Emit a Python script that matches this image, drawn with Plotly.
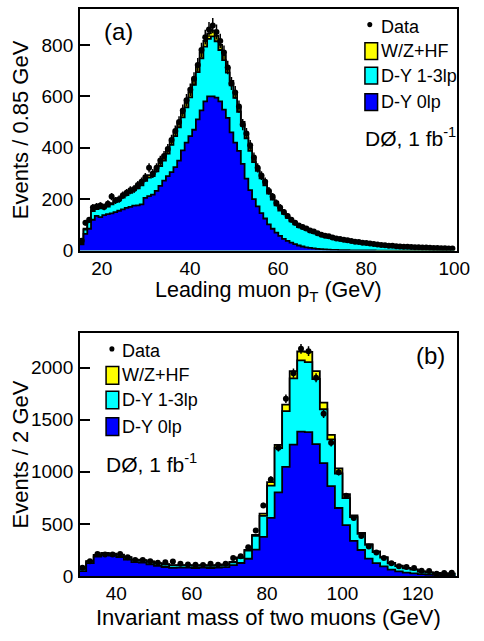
import numpy as np
import plotly.graph_objects as go

W, H = 484, 641

# ---------------- (a) leading muon pT : 0.85 GeV bins, 15-100 GeV ----------------
pt_lo, pt_w = 15.0, 0.85
pt_range = [15.0, 100.7]
pt_ticks = [20, 40, 60, 80, 100]
ya_ticks = [0, 200, 400, 600, 800]

dy0_a = [24, 65, 85, 120, 135, 130, 138, 142, 145, 150,
         155, 160, 166, 170, 175, 176, 180, 205, 212, 218,
         232, 252, 272, 290, 305, 325, 350, 390, 420, 445,
         470, 510, 545, 580, 600, 600, 595, 580, 548, 516,
         460, 420, 388, 337, 280, 235, 200, 172, 146, 125,
         102, 85, 70, 57, 46, 38, 31, 25, 20, 16,
         13, 11, 9, 7, 6, 5, 4, 3, 3, 2,
         2, 2, 1, 1, 1, 1, 1, 1, 1, 0,
         0, 0, 0, 0, 0, 0, 0, 0, 0, 0,
         0, 0, 0, 0, 0, 0, 0, 0, 0, 0]
dy13_a = [4, 17, 27, 34, 26, 34, 30, 29, 35, 40,
          44, 46, 50, 55, 60, 66, 74, 66, 72, 72,
          76, 77, 78, 87, 106, 120, 129, 128, 137, 151,
          175, 184, 203, 213, 223, 233, 219, 200, 193, 176,
          183, 174, 152, 149, 157, 153, 144, 138, 135, 129,
          120, 113, 106, 99, 97, 89, 83, 77, 71, 71,
          67, 63, 59, 56, 53, 50, 47, 44, 41, 39,
          36, 33, 32, 30, 29, 27, 25, 23, 21, 21,
          19, 18, 17, 16, 15, 14, 13, 12, 12, 11,
          11, 10, 10, 9, 9, 8, 8, 7, 7, 7]
hf_a = [2, 3, 3, 4, 4, 4, 4, 5, 5, 5,
        6, 6, 6, 7, 7, 8, 8, 9, 9, 10,
        10, 11, 12, 13, 14, 15, 16, 17, 18, 19,
        20, 21, 22, 22, 22, 22, 21, 20, 19, 18,
        17, 16, 15, 14, 13, 12, 11, 10, 9, 8,
        8, 7, 6, 6, 5, 5, 4, 4, 4, 3,
        3, 3, 3, 3, 2, 2, 2, 2, 2, 2,
        2, 2, 2, 2, 1, 1, 1, 1, 1, 1,
        1, 1, 1, 1, 1, 1, 1, 1, 1, 1,
        1, 1, 1, 1, 1, 1, 1, 1, 1, 1]
data_a = [38, 108, 120, 168, 172, 175, 170, 182, 210, 195,
          200, 215, 225, 235, 240, 255, 268, 285, 322, 300,
          322, 350, 368, 395, 430, 465, 500, 545, 585, 625,
          668, 722, 780, 830, 860, 875, 850, 815, 770, 712,
          650, 615, 560, 490, 455, 410, 362, 322, 292, 268,
          232, 210, 185, 168, 150, 135, 120, 108, 98, 92,
          86, 78, 74, 68, 62, 58, 56, 51, 47, 45,
          42, 40, 37, 35, 34, 31, 30, 28, 26, 24,
          22, 21, 19, 19, 17, 16, 15, 15, 14, 13,
          13, 12, 12, 11, 10, 10, 9, 9, 8, 8]

# ---------------- (b) dimuon invariant mass : 2 GeV bins, 30-130 GeV ----------------
m_lo, m_w = 30.0, 2.0
m_range = [30.3, 130.5]
m_ticks = [40, 60, 80, 100, 120]
yb_ticks = [0, 500, 1000, 1500, 2000]

dy0_b = [47, 123, 185, 203, 196, 182, 156, 133, 127, 112,
         96, 86, 77, 79, 79, 76, 79, 76, 79, 84,
         104, 124, 165, 252, 375, 557, 803, 1046, 1260, 1386,
         1380, 1266, 1083, 863, 652, 488, 337, 249, 167, 123,
         91, 60, 44, 31, 25, 18, 14, 11, 9, 8]
dy13_b = [20, 17, 14, 14, 15, 20, 21, 21, 21, 24,
          24, 24, 24, 22, 22, 22, 22, 22, 22, 22,
          27, 49, 79, 133, 201, 309, 425, 535, 636, 683,
          673, 624, 517, 447, 331, 258, 228, 154, 131, 107,
          84, 62, 51, 42, 36, 24, 20, 16, 15, 13]
hf_b = [2, 2, 3, 3, 3, 3, 3, 3, 3, 3,
        3, 3, 3, 3, 3, 3, 3, 3, 3, 4,
        4, 5, 6, 9, 22, 35, 30, 63, 69, 85,
        97, 75, 63, 44, 50, 38, 15, 10, 8, 6,
        5, 4, 3, 3, 2, 2, 1, 1, 1, 1]
data_b = [79, 142, 211, 205, 205, 211, 180, 154, 154, 142,
          126, 132, 139, 117, 110, 107, 104, 117, 107, 117,
          173, 190, 275, 435, 677, 926, 1230, 1700, 1946, 2180,
          2157, 1902, 1556, 1279, 995, 769, 557, 384, 283, 224,
          173, 123, 94, 85, 76, 50, 47, 22, 28, 31]

YELLOW, CYAN, BLUE = "#ffff00", "#00ffff", "#0000ff"
FONT = "Liberation Sans, Arial, Helvetica, sans-serif"


def px(x):
    return x / W


def py(y):
    return 1 - y / H


def add_panel(fig, lo, w, dy0, dy13, hf, data, xa, ya):
    dy0 = np.asarray(dy0, float)
    dy13 = np.asarray(dy13, float)
    hf = np.asarray(hf, float)
    data = np.asarray(data, float)
    edges = lo + w * np.arange(len(dy0) + 1)
    centers = 0.5 * (edges[:-1] + edges[1:])
    # stacked step histograms, drawn from the full stack down to the bottom layer
    layers = [(dy0 + dy13 + hf, YELLOW), (dy0 + dy13, CYAN), (dy0, BLUE)]
    for vals, col in layers:
        fig.add_trace(go.Scatter(
            x=edges, y=np.append(vals, vals[-1]), mode="lines",
            line=dict(shape="hv", color="black", width=1.8),
            fill="tozeroy", fillcolor=col, showlegend=False,
            hoverinfo="skip", xaxis=xa, yaxis=ya))
    fig.add_trace(go.Scatter(
        x=centers, y=data, mode="markers",
        marker=dict(color="black", size=6),
        error_y=dict(type="data", array=np.sqrt(data), color="black",
                     thickness=1.5, width=0),
        showlegend=False, xaxis=xa, yaxis=ya))


fig = go.Figure()
add_panel(fig, pt_lo, pt_w, dy0_a, dy13_a, hf_a, data_a, "x", "y")
add_panel(fig, m_lo, m_w, dy0_b, dy13_b, hf_b, data_b, "x2", "y2")

axis_common = dict(showline=True, linecolor="black", linewidth=1.5, mirror=True,
                   showgrid=False, zeroline=False,
                   tickfont=dict(family=FONT, size=19, color="black"))
xdom = [px(82), px(470)]

fig.update_layout(
    width=W, height=H, margin=dict(l=0, r=0, t=0, b=0),
    paper_bgcolor="white", plot_bgcolor="white", showlegend=False,
    font=dict(family=FONT, color="black"),
    xaxis=dict(domain=xdom, range=pt_range, anchor="y", ticks="",
               tickvals=pt_ticks, **axis_common),
    yaxis=dict(domain=[py(255), py(9)], range=[0, 940], anchor="x",
               ticks="inside", ticklen=10, tickwidth=1.5, tickcolor="black",
               tickvals=ya_ticks, ticklabelstandoff=1, **axis_common),
    xaxis2=dict(domain=xdom, range=m_range, anchor="y2", ticks="",
                tickvals=m_ticks, **axis_common),
    yaxis2=dict(domain=[py(586), py(339)], range=[0, 2330], anchor="x2",
                ticks="inside", ticklen=10, tickwidth=1.5, tickcolor="black",
                tickvals=yb_ticks, ticklabelstandoff=1, **axis_common),
)

ann = []
shapes = []


def text(x, y, s, size, xanchor="center", angle=0):
    ann.append(dict(x=px(x), y=py(y), xref="paper", yref="paper", text=s,
                    showarrow=False, xanchor=xanchor, yanchor="middle",
                    textangle=angle, font=dict(family=FONT, size=size, color="black")))


def legend(x_box, y_rows, x_text, box_w, box_h, dot_x, dot_y):
    # data entry: a dot followed by the label
    shapes.append(dict(type="circle", xref="paper", yref="paper",
                       x0=px(dot_x - 2.6), x1=px(dot_x + 2.6),
                       y0=py(dot_y + 2.6), y1=py(dot_y - 2.6),
                       fillcolor="black", line=dict(color="black", width=0)))
    text(x_text, y_rows[0], "Data", 18, "left")
    for yc, col, lab in zip(y_rows[1:], [YELLOW, CYAN, BLUE],
                            ["W/Z+HF", "D-Y 1-3lp", "D-Y 0lp"]):
        shapes.append(dict(type="rect", xref="paper", yref="paper",
                           x0=px(x_box), x1=px(x_box + box_w),
                           y0=py(yc + box_h / 2), y1=py(yc - box_h / 2),
                           fillcolor=col, line=dict(color="black", width=1.5)))
        text(x_text, yc, lab, 18, "left")


# panel (a) texts
text(122, 32, "(a)", 24)
legend(375, [27, 52, 77, 104], 389, 13, 17, 380, 25)
text(373, 139, "DØ, 1 fb<sup>-1</sup>", 21, "left")
text(276, 297, "Leading muon p<sub>T</sub> (GeV)", 21.5)
text(21, 132, "Events / 0.85 GeV", 22, angle=-90)

# panel (b) texts
text(442, 362, "(b)", 24)
legend(109, [357, 382, 407, 434], 123, 13, 18, 115, 355)
text(107, 471, "DØ, 1 fb<sup>-1</sup>", 21, "left")
text(276, 628, "Invariant mass of two muons (GeV)", 22)
text(21, 462, "Events / 2 GeV", 22, angle=-90)

fig.update_layout(annotations=ann, shapes=shapes)
fig.write_html("out.html")
